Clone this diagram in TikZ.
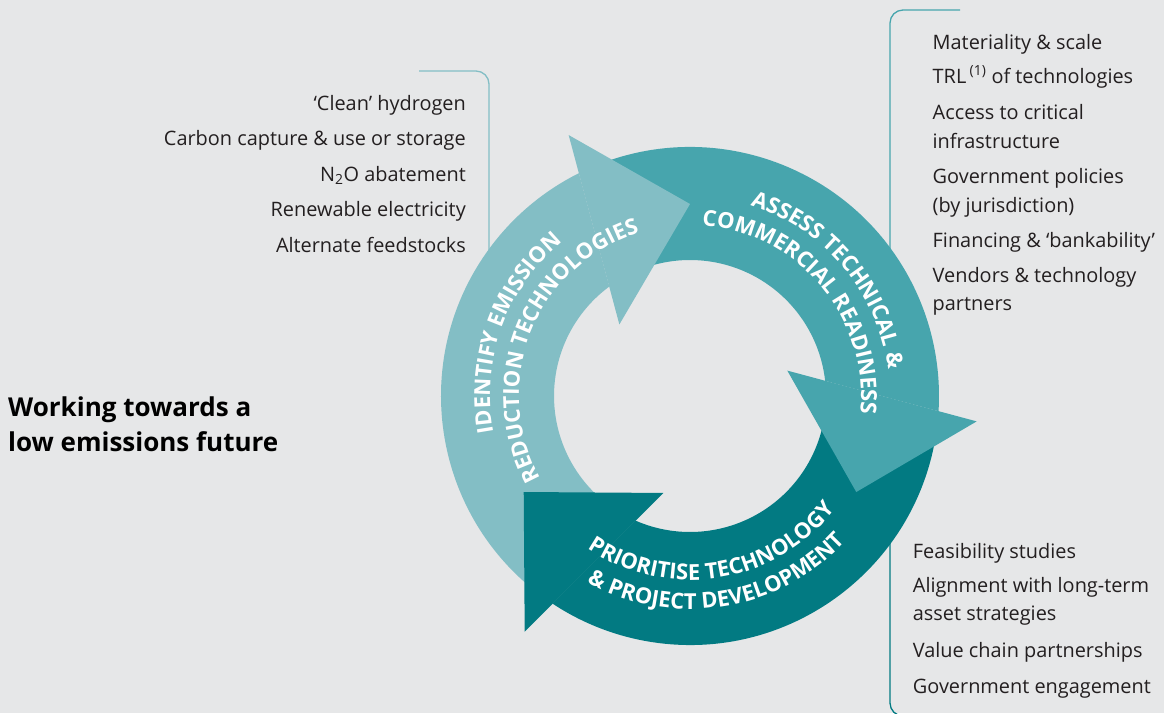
\documentclass[tikz,border=0pt]{standalone}
\usepackage{fontspec}
\setmainfont{Open Sans}
\usetikzlibrary{decorations.text}
\definecolor{bg}{HTML}{E6E7E8}
\definecolor{tlight}{HTML}{83BEC5}
\definecolor{tmid}{HTML}{47A5AD}
\definecolor{tdark}{HTML}{027A82}
\definecolor{ink}{HTML}{231F20}
\newcommand\arcfont{\fontsize{22}{26}\selectfont\bfseries}
\tikzset{
  listtxt/.style={font=\fontsize{19.9}{23}\selectfont, text=ink, inner sep=0pt},
  titletxt/.style={font=\fontsize{26}{30}\selectfont\bfseries, text=black, inner sep=0pt},
  bracket/.style={line width=1.3pt, rounded corners=13},
  arcdeco/.style={decorate, decoration={text along path, text align=center, text color=white, text={|\arcfont|#1}}}
}
\begin{document}
\begin{tikzpicture}[x=1pt,y=1pt]
\fill[bg] (0,0) rectangle (1164,-713);
\useasboundingbox (0,0) rectangle (1164,-713);

% brackets
\draw[bracket, tlight] (419,-71) -- (489,-71) -- (489,-265);
\draw[bracket, tmid] (960,-10) -- (890,-10) -- (890,-420);
\draw[bracket, tdark] (890,-470) -- (890,-716) -- (940,-716);

% cycle
\begin{scope}[shift={(690,-396)}]
  % bodies
  \fill[tlight] (232:249) arc[start angle=232, end angle=116.5, radius=249] -- (126.4:136) arc[start angle=126.4, end angle=232, radius=136] -- cycle;
  \fill[tmid] (112:249) arc[start angle=112, end angle=-3.5, radius=249] -- (6.4:136) arc[start angle=6.4, end angle=112, radius=136] -- cycle;
  \fill[tdark] (352:249) arc[start angle=352, end angle=236.5, radius=249] -- (246.4:136) arc[start angle=246.4, end angle=352, radius=136] -- cycle;
  % heads
  \fill[tlight] (114.94:287.8) -- (90:192) -- (134.63:100.56) -- cycle;
  \fill[tmid] (-5.06:287.8) -- (-30:192) -- (14.63:100.56) -- cycle;
  \fill[tdark] (234.94:287.8) -- (210:192) -- (254.63:100.56) -- cycle;
  % labels
  \path[arcdeco={IDENTIFY EMISSION}] (235:200) arc[start angle=235, end angle=85, radius=200];
  \path[arcdeco={REDUCTION TECHNOLOGIES}] (233:171) arc[start angle=233, end angle=83, radius=171];
  \path[arcdeco={ASSESS TECHNICAL {\&}}] (115:200) arc[start angle=115, end angle=-35, radius=200];
  \path[arcdeco={COMMERCIAL READINESS}] (115:171) arc[start angle=115, end angle=-35, radius=171];
  \path[arcdeco={PRIORITISE TECHNOLOGY}] (204:184) arc[start angle=204, end angle=354, radius=184];
  \path[arcdeco={{\&} PROJECT DEVELOPMENT}] (204:213) arc[start angle=204, end angle=354, radius=213];
\end{scope}

% title
\node[titletxt, anchor=base west] (t1) at (8,-416.5) {Working towards a};
\node[titletxt, anchor=base west] (t2) at (8,-451) {low emissions future};

% left list
\node[listtxt, anchor=base east] (l1) at (466,-110) {‘Clean’ hydrogen};
\node[listtxt, anchor=base east] (l2) at (466,-145.5) {Carbon capture \& use or storage};
\node[listtxt, anchor=base east] (l3) at (466,-181) {N\textsubscript{2}O abatement};
\node[listtxt, anchor=base east] (l4) at (466,-216.5) {Renewable electricity};
\node[listtxt, anchor=base east] (l5) at (466,-252) {Alternate feedstocks};

% right top list
\node[listtxt, anchor=base west] (r1) at (932.5,-49) {Materiality \& scale};
\node[listtxt, anchor=base west] (r2) at (932.5,-83.5) {TRL\,\textsuperscript{(1)} of technologies};
\node[listtxt, anchor=base west] (r3) at (932.5,-119) {Access to critical};
\node[listtxt, anchor=base west] (r3b) at (932.5,-148) {infrastructure};
\node[listtxt, anchor=base west] (r4) at (932.5,-183) {Government policies};
\node[listtxt, anchor=base west] (r4b) at (932.5,-212) {(by jurisdiction)};
\node[listtxt, anchor=base west] (r5) at (932.5,-247) {Financing \& ‘bankability’};
\node[listtxt, anchor=base west] (r6) at (932.5,-282) {Vendors \& technology};
\node[listtxt, anchor=base west] (r6b) at (932.5,-310) {partners};

% right bottom list
\node[listtxt, anchor=base west] (b1) at (912.7,-558) {Feasibility studies};
\node[listtxt, anchor=base west] (b2) at (912.7,-592) {Alignment with long-term};
\node[listtxt, anchor=base west] (b2b) at (912.7,-620.5) {asset strategies};
\node[listtxt, anchor=base west] (b3) at (912.7,-657) {Value chain partnerships};
\node[listtxt, anchor=base west] (b4) at (912.7,-693) {Government engagement};
\end{tikzpicture}
\end{document}
